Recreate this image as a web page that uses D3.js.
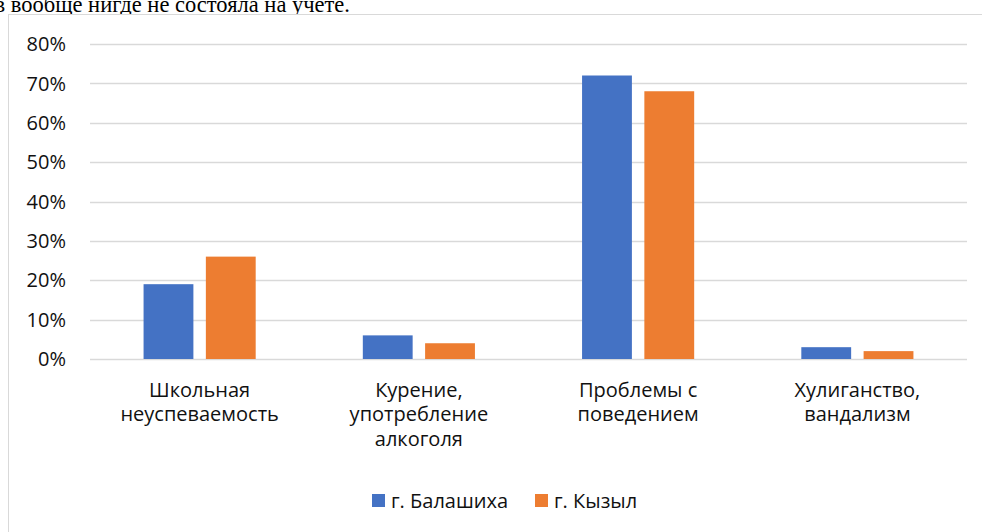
<!DOCTYPE html>
<html><head><meta charset="utf-8">
<script src="https://cdn.jsdelivr.net/npm/d3@7"></script>
<style>html,body{margin:0;padding:0;background:#fff;overflow:hidden}</style>
</head><body><svg id="c" width="982" height="532"></svg>
<script>
const categories = [["Школьная","неуспеваемость"],["Курение,","употребление","алкоголя"],["Проблемы с","поведением"],["Хулиганство,","вандализм"]];
const seriesNames = ["г. Балашиха","г. Кызыл"];
const balashikha = [19, 6, 72, 3];
const kyzyl = [26, 4, 68, 2];
const yTicks = [0,10,20,30,40,50,60,70,80];
const colors = ["#4472c4","#ed7d31"];
const series = [balashikha, kyzyl];

const svg = d3.select("#c");
const font = "'Open Sans', sans-serif";
const fs = 20;

// cropped paragraph text above chart
svg.append("text").attr("x",-5.5).attr("y",11.5).attr("font-family","'Liberation Serif','Times New Roman',serif")
  .attr("font-size",22.5).attr("fill","#000").text("в вообще нигде не состояла на учете.");

// frame
svg.append("rect").attr("x",8.5).attr("y",14.5).attr("width",990).attr("height",540)
  .attr("fill","#fff").attr("stroke","#d9d9d9").attr("stroke-width",1);

const x0 = d3.scaleBand().domain(d3.range(categories.length)).range([90,967]).paddingInner(0).paddingOuter(0);
const x1 = d3.scaleBand().domain([0,1]).range([0,x0.bandwidth()]).paddingInner(0.2).paddingOuter(0.86);
const y = d3.scaleLinear().domain([0,80]).range([359,44]);

// gridlines
svg.append("g").selectAll("line").data(yTicks).join("line")
  .attr("x1",90).attr("x2",967).attr("y1",d=>Math.round(y(d))+0.5).attr("y2",d=>Math.round(y(d))+0.5)
  .attr("stroke","#d9d9d9").attr("stroke-width",1.3);

// y labels
svg.append("g").selectAll("text").data(yTicks).join("text")
  .attr("x",66).attr("y",d=>y(d)).attr("dy","0.36em").attr("text-anchor","end")
  .attr("font-family",font).attr("font-size",fs).attr("fill","#111").text(d=>d+"%");

// bars
series.forEach((vals,si)=>{
  svg.append("g").selectAll("rect").data(vals).join("rect")
    .attr("x",(d,i)=>x0(i)+x1(si)).attr("width",x1.bandwidth())
    .attr("y",d=>y(d)).attr("height",d=>y(0)-y(d)).attr("fill",colors[si]);
});

// category labels
const cg = svg.append("g");
categories.forEach((lines,i)=>{
  const t = cg.append("text").attr("text-anchor","middle").attr("font-family",font)
    .attr("font-size",fs).attr("fill","#111");
  lines.forEach((l,j)=>{
    t.append("tspan").attr("x",x0(i)+x0.bandwidth()/2).attr("y",396.5+j*24.5).text(l);
  });
});

// legend
const lg = svg.append("g");
const legX = [372,535];
seriesNames.forEach((n,i)=>{
  lg.append("rect").attr("x",legX[i]).attr("y",494).attr("width",13).attr("height",13).attr("fill",colors[i]);
  lg.append("text").attr("x",legX[i]+19).attr("y",508).attr("font-family",font).attr("font-size",fs)
    .attr("fill","#111").text(n);
});
</script></body></html>
